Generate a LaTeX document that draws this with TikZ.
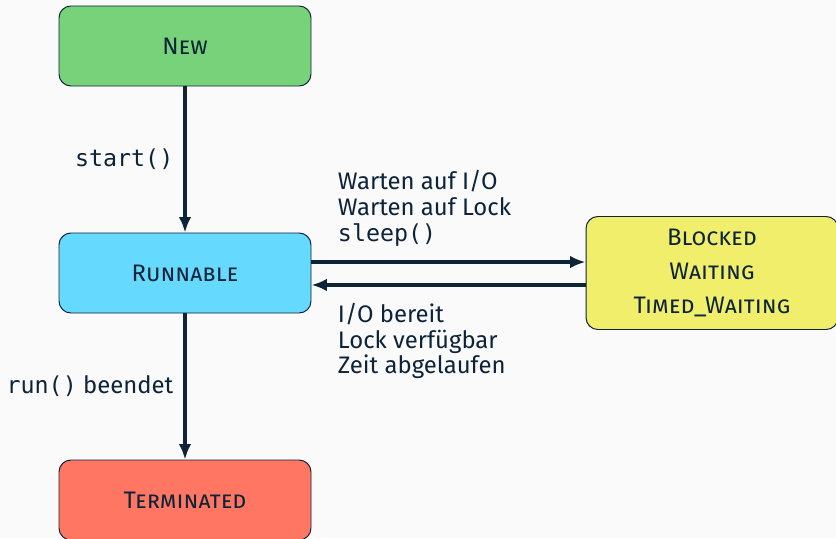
\documentclass[tikz,border=0pt]{standalone}
\usepackage{fontspec}
\setmainfont{Fira Sans}
\setmonofont{DejaVu Sans Mono}[Scale=0.975]
\usetikzlibrary{arrows.meta}
\definecolor{ink}{HTML}{0C2338}
\definecolor{bg}{HTML}{FAFAFA}
\definecolor{cnew}{HTML}{77D27A}
\definecolor{crun}{HTML}{66D9FF}
\definecolor{cblk}{HTML}{F0EE6A}
\definecolor{cterm}{HTML}{FF7763}
\tikzset{
  state/.style={draw=ink,line width=.7pt,rounded corners=8.5pt,minimum width=6.3cm,
    minimum height=2cm,align=center,text=ink,font=\fontsize{17}{24}\selectfont\scshape},
  trans/.style={draw=ink,line width=2.4pt,-{Latex[length=11pt,width=9pt]}},
  lbl/.style={text=ink,align=left,font=\fontsize{17}{18.2}\selectfont,inner sep=0pt}
}
\begin{document}
\begin{tikzpicture}
    \fill[bg] (0,0) rectangle (20.9,-13.45);
    \useasboundingbox (0,0) rectangle (20.9,-13.45);
    \node[state,fill=cnew] (new) at (4.625,-1.15) {New};
    \node[state,fill=crun] (run) at (4.625,-6.825) {Runnable};
    \node[state,fill=cterm] (term) at (4.625,-12.5) {Terminated};
    \node[state,fill=cblk,minimum height=2.825cm] (blk) at (17.8,-6.825) {Blocked\\Waiting\\Timed\_Waiting};
    \draw[trans] (new) -- node[lbl,left=.25cm] {\texttt{start()}} (run);
    \draw[trans] (run) -- node[lbl,left=.25cm] {\texttt{run()} beendet} (term);
    \draw[trans] ([yshift=7.8pt]run.east) -- node[lbl,pos=0,anchor=south west,xshift=.62cm,yshift=.36cm]
      {Warten auf I/O\\Warten auf Lock\\\texttt{sleep()}} ([yshift=7.8pt]blk.west);
    \draw[trans] ([yshift=-8.5pt]blk.west) -- node[lbl,pos=1,anchor=north west,xshift=.62cm,yshift=-.42cm]
      {I/O bereit\\Lock verfügbar\\Zeit abgelaufen} ([yshift=-8.5pt]run.east);
\end{tikzpicture}
\end{document}
